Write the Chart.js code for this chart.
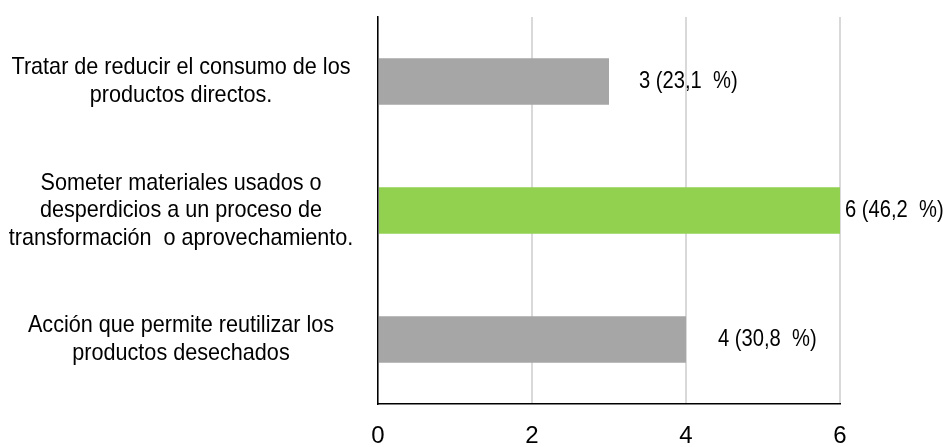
<!DOCTYPE html>
<html>
<head>
<meta charset="utf-8">
<title>Acciones</title>
<script src="https://cdn.jsdelivr.net/npm/chart.js@4.4.1/dist/chart.umd.min.js"></script>
<style>
  html, body { margin: 0; padding: 0; background: #fff; }
  #wrap { width: 943px; height: 447px; }
</style>
</head>
<body>
<div id="wrap"><canvas id="chart" width="943" height="447"></canvas></div>
<script>
// ----------------- Data -----------------
const categories = [
  ["Tratar de reducir el consumo de los", "productos directos."],
  ["Someter materiales usados o", "desperdicios a un proceso de", "transformación  o aprovechamiento."],
  ["Acción que permite reutilizar los", "productos desechados"]
];
const counts = [3, 6, 4];
const percents = ["23,1", "46,2", "30,8"];
const barColors = ["#a6a6a6", "#92d050", "#a6a6a6"];
const xTicks = [0, 2, 4, 6];

const SANS = "'Liberation Sans', Arial, sans-serif";

// draws text squeezed horizontally (narrow face look)
function narrowText(ctx, text, x, y, squeeze) {
  ctx.save();
  ctx.translate(x, y);
  ctx.scale(squeeze, 1);
  ctx.fillText(text, 0, 0);
  ctx.restore();
}

// ----------------- Category labels -----------------
const categoryLabels = {
  id: "categoryLabels",
  afterDraw(chart, args, opts) {
    const { ctx } = chart;
    const yScale = chart.scales.y;
    ctx.save();
    ctx.font = opts.font;
    ctx.fillStyle = "#000";
    ctx.textAlign = "center";
    ctx.textBaseline = "middle";
    categories.forEach((lines, i) => {
      const yc = yScale.getPixelForValue(i);
      const y0 = yc - (lines.length - 1) * opts.lineHeight / 2;
      lines.forEach((line, j) => {
        narrowText(ctx, line, opts.centerX, y0 + j * opts.lineHeight, opts.squeeze);
      });
    });
    ctx.restore();
  }
};

// ----------------- Value labels -----------------
const valueLabels = {
  id: "valueLabels",
  afterDatasetsDraw(chart, args, opts) {
    const { ctx } = chart;
    const meta = chart.getDatasetMeta(0);
    ctx.save();
    ctx.font = opts.font;
    ctx.fillStyle = "#000";
    ctx.textAlign = "left";
    ctx.textBaseline = "middle";
    meta.data.forEach((bar, i) => {
      const text = `${counts[i]} (${percents[i]}  %)`;
      narrowText(ctx, text, bar.x + opts.gaps[i], bar.y, opts.squeeze);
    });
    ctx.restore();
  }
};

// ----------------- Chart -----------------
new Chart(document.getElementById("chart"), {
  type: "bar",
  data: {
    labels: categories,
    datasets: [{
      data: counts,
      backgroundColor: barColors,
      barPercentage: 0.36,
      categoryPercentage: 1
    }]
  },
  options: {
    indexAxis: "y",
    responsive: false,
    animation: false,
    layout: { padding: { top: 17, right: 103, left: 0, bottom: 0 } },
    plugins: {
      legend: { display: false },
      tooltip: { enabled: false },
      valueLabels: { font: "24px " + SANS, gaps: [30, 5, 32], squeeze: 0.84 },
      categoryLabels: { font: "24px " + SANS, centerX: 181, lineHeight: 27.5, squeeze: 0.9 }
    },
    scales: {
      x: {
        min: 0,
        max: 6,
        afterBuildTicks: scale => { scale.ticks = xTicks.map(v => ({ value: v })); },
        afterFit: scale => { scale.height = 43; },
        grid: { color: "#d9d9d9", lineWidth: 2, drawTicks: false },
        border: { color: "#000", width: 1.5 },
        ticks: {
          color: "#000",
          padding: 18,
          font: { family: SANS, size: 24 }
        }
      },
      y: {
        afterFit: scale => {
          scale.width = 378;
          scale.paddingTop = 0;
          scale.paddingBottom = 0;
        },
        grid: { display: false, drawTicks: false },
        border: { color: "#000", width: 1.5 },
        ticks: { display: false }
      }
    }
  },
  plugins: [valueLabels, categoryLabels]
});
</script>
</body>
</html>
